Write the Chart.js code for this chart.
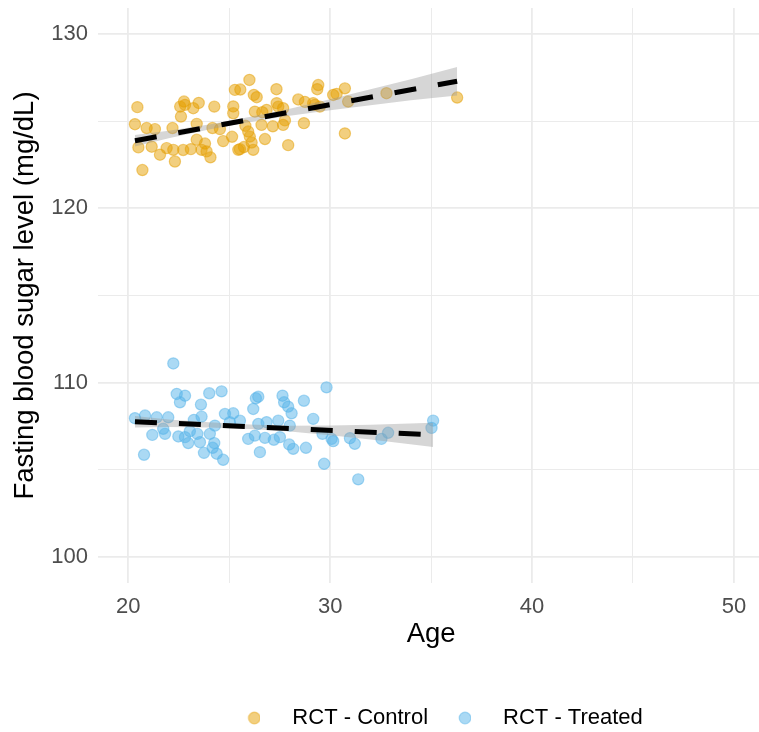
<!DOCTYPE html>
<html>
<head>
<meta charset="utf-8">
<script src="https://cdn.jsdelivr.net/npm/chart.js@4/dist/chart.umd.min.js"></script>
<style>
  html, body { margin: 0; padding: 0; background: #ffffff; overflow: hidden; width: 759px; height: 732px; }
  #wrap { width: 771px; height: 732px; position: relative; }
</style>
</head>
<body>
<div id="wrap"><canvas id="chart"></canvas></div>
<script>
// ---------- data ----------
const seriesNames = ['RCT - Control', 'RCT - Treated'];

const controlAge = [20.45, 20.33, 20.91, 21.32, 20.50, 21.16, 21.57, 20.70, 21.90, 22.23,
  22.31, 22.72, 22.19, 22.57, 22.76, 22.81, 22.61, 23.22, 23.49, 24.26,
  23.39, 23.10, 23.39, 23.63, 23.80, 23.88, 24.07, 24.17, 24.54, 24.70,
  25.14, 25.20, 25.20, 25.28, 25.45, 26.00, 25.55, 26.22, 26.36, 27.34,
  26.27, 26.64, 26.85, 27.35, 27.43, 27.67, 27.76, 27.67, 27.16, 26.60,
  25.80, 25.94, 26.02, 26.77, 26.11, 25.53, 25.73, 26.19, 27.92, 28.42,
  28.75, 28.70, 29.24, 29.41, 29.36, 29.16, 29.49, 30.15, 30.32, 30.73,
  30.73, 30.89, 32.79, 36.29];
const controlGlucose = [125.81, 124.83, 124.61, 124.55, 123.50, 123.54, 123.08, 122.20, 123.46, 123.36,
  122.69, 123.35, 124.61, 125.84, 126.13, 125.94, 125.27, 125.75, 126.05, 125.84,
  124.85, 123.40, 123.94, 123.36, 123.72, 123.27, 122.93, 124.61, 124.55, 123.86,
  124.11, 125.85, 125.46, 126.80, 123.36, 127.37, 126.82, 126.51, 126.38, 126.84,
  125.55, 125.52, 125.65, 126.04, 125.84, 125.75, 125.05, 124.79, 124.71, 124.79,
  124.74, 124.41, 124.12, 123.98, 123.78, 123.40, 123.52, 123.36, 123.63, 126.25,
  126.11, 124.89, 125.94, 127.08, 126.84, 126.04, 125.84, 126.51, 126.57, 126.89,
  124.30, 126.13, 126.61, 126.36];

const treatedAge = [22.23, 22.40, 22.81, 22.56, 23.60, 24.01, 24.62, 23.63, 20.33, 20.83,
  21.41, 21.98, 21.73, 21.82, 21.19, 20.78, 22.48, 22.81, 23.05, 23.25,
  22.97, 23.55, 23.42, 24.04, 24.26, 23.75, 24.38, 24.70, 24.18, 24.29,
  24.79, 25.20, 25.03, 29.82, 26.32, 26.44, 26.19, 27.64, 27.72, 27.92,
  28.09, 28.70, 29.16, 25.53, 26.44, 26.85, 27.43, 25.94, 26.27, 26.77,
  27.21, 27.51, 27.97, 28.17, 28.80, 26.52, 29.62, 30.07, 30.15, 29.70,
  31.39, 30.98, 31.22, 32.54, 32.87, 35.10, 35.02, 28.00];
const treatedGlucose = [111.10, 109.35, 109.25, 108.87, 108.74, 109.39, 109.50, 108.05, 107.96, 108.11,
  108.01, 108.01, 107.35, 107.06, 107.00, 105.86, 106.91, 106.87, 107.21, 107.86,
  106.53, 106.58, 107.06, 107.06, 106.53, 105.97, 105.92, 105.57, 106.26, 107.53,
  108.20, 108.24, 107.73, 109.73, 109.10, 109.19, 108.49, 109.25, 108.87, 108.62,
  108.24, 108.96, 107.92, 107.82, 107.63, 107.73, 107.82, 106.77, 106.96, 106.83,
  106.72, 106.87, 106.45, 106.20, 106.26, 106.01, 107.06, 106.77, 106.64, 105.34,
  104.45, 106.81, 106.49, 106.77, 107.12, 107.82, 107.40, 107.53];

// fitted lines (end points)
const fitControlAge = [20.33, 36.29];
const fitControlGlucose = [123.88, 127.30];
const fitTreatedAge = [20.33, 35.10];
const fitTreatedGlucose = [107.76, 107.00];

// confidence bands
const bandControlAge = [20.33, 22, 24, 26, 28, 30, 32, 34, 36.29];
const bandControlLower = [123.55, 124.02, 124.52, 124.96, 125.32, 125.63, 125.92, 126.21, 126.48];
const bandControlUpper = [124.21, 124.46, 124.82, 125.24, 125.72, 126.27, 126.84, 127.41, 128.12];
const bandTreatedAge = [20.33, 22, 24, 26, 28, 30, 32, 35.10];
const bandTreatedLower = [107.43, 107.45, 107.42, 107.34, 107.19, 106.98, 106.74, 106.30];
const bandTreatedUpper = [108.09, 107.89, 107.72, 107.60, 107.53, 107.54, 107.58, 107.70];

// axis ticks
const xMajorTicks = [20, 30, 40, 50];
const xMinorTicks = [25, 35, 45];
const yMajorTicks = [100, 110, 120, 130];
const yMinorTicks = [105, 115, 125];

// ---------- styles ----------
const FONT = "'Liberation Sans', Arial, Helvetica, sans-serif";
const ORANGE = 'rgba(230,159,0,0.5)';
const BLUE = 'rgba(86,180,233,0.5)';
const BAND = 'rgba(153,153,153,0.4)';
const GRID = '#ebebeb';

const pts = (xs, ys) => xs.map((x, i) => ({ x: x, y: ys[i] }));

function legendIcon(color) {
  const c = document.createElement('canvas');
  c.width = 20; c.height = 14;
  const g = c.getContext('2d');
  g.beginPath();
  g.arc(14, 7, 5.8, 0, Math.PI * 2);
  g.fillStyle = color; g.fill();
  g.lineWidth = 1.2; g.strokeStyle = color; g.stroke();
  return c;
}
const legendIcons = [legendIcon(ORANGE), legendIcon(BLUE)];

const allTicks = (major, minor) => major.concat(minor).sort((a, b) => a - b);

const chart = new Chart(document.getElementById('chart'), {
  type: 'scatter',
  data: {
    datasets: [
      { label: seriesNames[0], data: pts(controlAge, controlGlucose), backgroundColor: ORANGE, borderColor: ORANGE,
        borderWidth: 1.2, pointRadius: 5.6, order: 3 },
      { label: seriesNames[1], data: pts(treatedAge, treatedGlucose), backgroundColor: BLUE, borderColor: BLUE,
        borderWidth: 1.2, pointRadius: 5.6, order: 3 },
      { type: 'line', label: 'ctrl-lower', data: pts(bandControlAge, bandControlLower), borderWidth: 0,
        pointRadius: 0, fill: false, order: 2 },
      { type: 'line', label: 'ctrl-upper', data: pts(bandControlAge, bandControlUpper), borderWidth: 0,
        pointRadius: 0, fill: '-1', backgroundColor: BAND, order: 2 },
      { type: 'line', label: 'trt-lower', data: pts(bandTreatedAge, bandTreatedLower), borderWidth: 0,
        pointRadius: 0, fill: false, order: 2 },
      { type: 'line', label: 'trt-upper', data: pts(bandTreatedAge, bandTreatedUpper), borderWidth: 0,
        pointRadius: 0, fill: '-1', backgroundColor: BAND, order: 2 },
      { type: 'line', label: 'ctrl-fit', data: pts(fitControlAge, fitControlGlucose), borderColor: '#000000',
        borderWidth: 5, borderDash: [22, 22], borderCapStyle: 'butt', pointRadius: 0, fill: false, order: 1 },
      { type: 'line', label: 'trt-fit', data: pts(fitTreatedAge, fitTreatedGlucose), borderColor: '#000000',
        borderWidth: 5, borderDash: [22, 22], borderCapStyle: 'butt', pointRadius: 0, fill: false, order: 1 }
    ]
  },
  options: {
    responsive: true,
    maintainAspectRatio: false,
    animation: false,
    events: [],
    layout: { padding: { top: 8, right: 0, bottom: 0, left: 0 } },
    plugins: {
      tooltip: { enabled: false },
      legend: {
        position: 'bottom',
        fullSize: false,
        maxHeight: 27,
        labels: {
          usePointStyle: true,
          pointStyleWidth: 62,
          padding: 2,
          color: '#000000',
          font: { family: FONT, size: 22 },
          generateLabels: (ch) => Chart.defaults.plugins.legend.labels.generateLabels(ch)
            .filter(l => l.datasetIndex < 2)
            .map(l => Object.assign({}, l, { pointStyle: legendIcons[l.datasetIndex] }))
        }
      }
    },
    scales: {
      x: {
        type: 'linear',
        min: 18.5,
        max: 51.5,
        afterBuildTicks: (s) => { s.ticks = allTicks(xMajorTicks, xMinorTicks).map(v => ({ value: v })); },
        afterFit: (s) => { s.height = 122; s.paddingLeft = 0; s.paddingRight = 0; },
        border: { display: false },
        grid: {
          color: GRID,
          drawTicks: false,
          lineWidth: (c) => (c.tick && xMajorTicks.includes(c.tick.value)) ? 1.8 : 1.0
        },
        ticks: {
          autoSkip: false,
          maxRotation: 0,
          padding: 11,
          color: '#4d4d4d',
          font: { family: FONT, size: 22 },
          callback: (v) => xMajorTicks.includes(v) ? String(v) : ''
        },
        title: {
          display: true,
          text: 'Age',
          color: '#000000',
          font: { family: FONT, size: 27.5 },
          padding: { top: 0, bottom: 54 }
        }
      },
      y: {
        type: 'linear',
        min: 98.5,
        max: 131.5,
        afterBuildTicks: (s) => { s.ticks = allTicks(yMajorTicks, yMinorTicks).map(v => ({ value: v })); },
        afterFit: (s) => { s.width = 98; s.paddingTop = 0; s.paddingBottom = 0; },
        border: { display: false },
        grid: {
          color: GRID,
          drawTicks: false,
          lineWidth: (c) => (c.tick && yMajorTicks.includes(c.tick.value)) ? 1.8 : 1.0
        },
        ticks: {
          autoSkip: false,
          padding: 10,
          color: '#4d4d4d',
          font: { family: FONT, size: 22 },
          callback: (v) => yMajorTicks.includes(v) ? String(v) : ''
        },
        title: {
          display: true,
          text: 'Fasting blood sugar level (mg/dL)',
          color: '#000000',
          font: { family: FONT, size: 27.5 },
          padding: { top: 8.5, bottom: 0 }
        }
      }
    }
  }
});
</script>
</body>
</html>
